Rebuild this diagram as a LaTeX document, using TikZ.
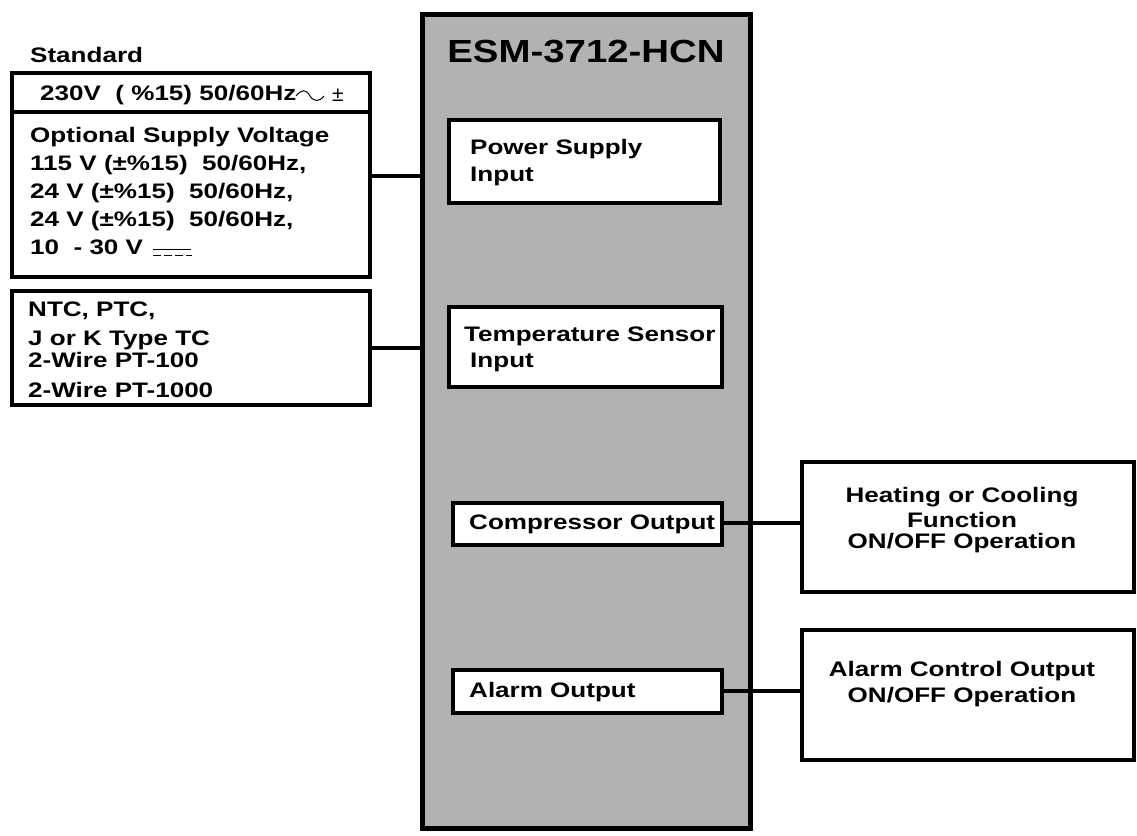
\documentclass[tikz,border=0pt]{standalone}
\usepackage{fontspec}
\setmainfont{Liberation Sans}
\newcommand\sx[1]{\scalebox{1.24}[1]{#1}}
\begin{document}
\begin{tikzpicture}[x=1pt,y=-1pt,
  box/.style={draw=black,line width=4.5pt,fill=white},
  conn/.style={draw=black,line width=4pt},
  txt/.style={font=\bfseries\fontsize{21}{24}\selectfont,inner sep=0pt,anchor=west},
  ctxt/.style={font=\bfseries\fontsize{21}{24}\selectfont,inner sep=0pt,align=center}]
\useasboundingbox (0,0) rectangle (1137,835);
% main box
\draw[line width=5pt,fill={rgb,255:red,178;green,178;blue,178}] (422,14) rectangle (750,828);
\node[font=\bfseries\fontsize{32}{36}\selectfont] (title) at (586,52) {\scalebox{1.2}[1]{ESM-3712-HCN}};
\draw[box] (449,120) rectangle (720,203);
\node[txt] (ps1) at (470,149) {\sx{Power Supply}};
\node[txt] (ps2) at (470,176) {\sx{Input}};
\draw[box] (449,307) rectangle (722,387);
\node[txt] (ts1) at (464,336) {\sx{Temperature Sensor}};
\node[txt] (ts2) at (470,362) {\sx{Input}};
\draw[box] (453,503) rectangle (722,545);
\node[txt] (co) at (469,524) {\sx{Compressor Output}};
\draw[box] (453,670) rectangle (722,713);
\node[txt] (ao) at (469,692) {\sx{Alarm Output}};
% left supply box
\node[txt] (std) at (30,55) {\sx{Standard}};
\draw[box] (12,73) rectangle (370,277);
\draw[line width=4.5pt] (12,112) -- (370,112);
\node[txt] (s230) at (40,95) {\sx{230V\ \ ( \%15) 50/60Hz}};
\draw[line width=1pt] (296,96) .. controls (302,89) and (306,89) .. (310,96) .. controls (314,102) and (319,102) .. (324,96);
\node[font=\fontsize{21}{24}\selectfont,inner sep=0pt] (pm) at (338,95) {±};
\node[txt] (o1) at (30,137) {\sx{Optional Supply Voltage}};
\node[txt] (o2) at (30,165) {\sx{115 V (±\%15)\ \ 50/60Hz,}};
\node[txt] (o3) at (30,193) {\sx{24 V (±\%15)\ \ 50/60Hz,}};
\node[txt] (o4) at (30,221) {\sx{24 V (±\%15)\ \ 50/60Hz,}};
\node[txt] (o5) at (30,247) {\sx{10\ \ - 30 V}};
\draw[line width=1pt] (153,249) -- (191,249);
\draw[line width=1pt,dash pattern=on 8pt off 3pt] (153,255) -- (192,255);
\draw[box] (12,291) rectangle (370,405);
\node[txt] (n1) at (28,311) {\sx{NTC, PTC,}};
\node[txt] (n2) at (28,340) {\sx{J or K Type TC}};
\node[txt] (n3) at (28,360) {\sx{2-Wire PT-100}};
\node[txt] (n4) at (28,390) {\sx{2-Wire PT-1000}};
% right boxes
\draw[box] (802,462) rectangle (1134,592);
\node[ctxt] (heat) at (962,520) {\sx{Heating or Cooling}\\[1pt]\sx{Function}\\[-3pt]\sx{ON/OFF Operation}};
\draw[box] (802,630) rectangle (1134,760);
\node[ctxt] (alarm) at (962,684) {\sx{Alarm Control Output}\\[2pt]\sx{ON/OFF Operation}};
% connectors
\coordinate (a1) at (370,176); \coordinate (a2) at (422,176);
\coordinate (b1) at (370,348); \coordinate (b2) at (422,348);
\coordinate (c1) at (722,523); \coordinate (c2) at (802,523);
\coordinate (d1) at (722,691); \coordinate (d2) at (802,691);
\draw[conn] (a1) -- (a2);
\draw[conn] (b1) -- (b2);
\draw[conn] (c1) -- (c2);
\draw[conn] (d1) -- (d2);
\end{tikzpicture}
\end{document}
